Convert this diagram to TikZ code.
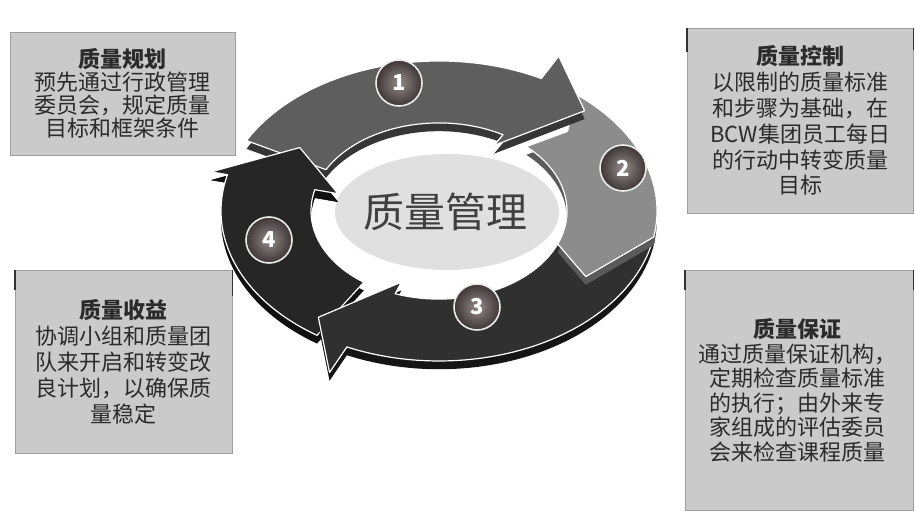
\documentclass[tikz,border=0pt]{standalone}
\usepackage{fontspec}
\newfontfamily\cjk{Noto Sans CJK SC}
\definecolor{boxgray}{HTML}{CACACA}
\definecolor{txt}{HTML}{2B2B2B}
\definecolor{aone}{HTML}{5E5E5E}
\definecolor{aoneside}{HTML}{363636}
\definecolor{atwo}{HTML}{8C8C8C}
\definecolor{atwoside}{HTML}{5A5A5A}
\definecolor{athree}{HTML}{303030}
\definecolor{athreeside}{HTML}{151515}
\definecolor{afour}{HTML}{262626}
\definecolor{afourside}{HTML}{101010}
\definecolor{blobgray}{HTML}{E0E0E0}
\definecolor{numin}{HTML}{948A8A}
\definecolor{numout}{HTML}{3E3636}
\newcommand\RingOut{218}
\newcommand\RingIn{128}
\newcommand\RingMid{173}
% tailOut, tailIn, notchAngle, baseOut, baseIn, barbOut, barbIn, tipAngle, tipRadius
\newcommand\ArrowPath[9]{(#1:\RingOut) arc[start angle=#1,end angle=#4,radius=\RingOut] -- (#4:#6) -- (#8:#9) -- (#5:#7) -- (#5:\RingIn) arc[start angle=#5,end angle=#2,radius=\RingIn] -- (#3:\RingMid) -- cycle}
\newcommand\ArrowOne{\ArrowPath{152}{152}{152}{62}{60}{255}{110}{45}{206}}
\newcommand\ArrowTwo{\ArrowPath{51}{47}{42}{-10}{-22}{218}{128}{-33}{175}}
\newcommand\ArrowThree{\ArrowPath{-8}{-20}{-30}{-115}{-110}{259}{110}{-128}{196}}
\newcommand\ArrowFour{\ArrowPath{236}{234}{235}{166}{166}{235}{104}{146.5}{167}}
\begin{document}
\begin{tikzpicture}[x=1pt,y=-1pt,
  infobox/.style={fill=boxgray, draw=gray!75, line width=0.5pt, anchor=north west, inner sep=0pt},
  infotext/.style={text=txt, align=center, inner sep=0pt, font=\cjk\fontsize{22}{#1}\selectfont},
  numball/.style={circle, minimum size=46pt, inner sep=0pt, shading=radial, inner color=numin, outer color=numout, draw=white!85!gray, line width=1.6pt, text=white, font=\cjk\bfseries\fontsize{22}{24}\selectfont},
  arrowtop/.style={fill=#1, draw=white, line width=1.2pt, line join=round},
  arrowside/.style={fill=#1, shift={(0,-12)}},
  tick/.style={draw=black!80, line width=1.2pt}]
\useasboundingbox (0,0) rectangle (915,526);
\fill[white] (0,0) rectangle (915,526);

% info boxes
\node[infobox, minimum width=225pt, minimum height=123pt] (b1) at (10,32) {};
\node[infotext=23] (t1) at (b1.center) {{\bfseries 质量规划}\\预先通过行政管理\\委员会，规定质量\\目标和框架条件};

\node[infobox, minimum width=226pt, minimum height=185pt] (b2) at (687,28) {};
\node[infotext=25.8] (t2) at (b2.center) {{\bfseries 质量控制}\\以限制的质量标准\\和步骤为基础，在\\BCW集团员工每日\\的行动中转变质量\\目标};
\draw[tick] (b2.north west) -- ++(0,24);
\draw[tick] (b2.north east) -- ++(0,22);

\node[infobox, minimum width=217pt, minimum height=183pt] (b3) at (15,270) {};
\node[infotext=26] (t3) at (b3.center) {{\bfseries 质量收益}\\协调小组和质量团\\队来开启和转变改\\良计划，以确保质\\量稳定};
\draw[tick] (b3.north west) -- ++(0,20);
\draw[tick] (b3.north east) -- ++(0,26);

\node[infobox, minimum width=228pt, minimum height=240pt] (b4) at (685,270) {};
\node[infotext=24.6] (t4) at ([xshift=-2pt]b4.center) {{\bfseries 质量保证}\\通过质量保证机构，\\定期检查质量标准\\的执行；由外来专\\家组成的评估委员\\会来检查课程质量};
\draw[tick] (b4.north west) -- ++(0,20);
\draw[tick] (b4.north east) -- ++(0,20);

% centre blob
\fill[blobgray] (447,212) ellipse [x radius=112, y radius=58];

% ring of arrows
\begin{scope}[shift={(439,211)}, yscale=-0.688]
  \fill[arrowside=afourside] \ArrowFour;
  \path[arrowtop=afour] \ArrowFour;
  \fill[arrowside=athreeside] \ArrowThree;
  \path[arrowtop=athree] \ArrowThree;
  \fill[arrowside=atwoside] \ArrowTwo;
  \path[arrowtop=atwo] \ArrowTwo;
  \fill[arrowside=aoneside] \ArrowOne;
  \path[arrowtop=aone] \ArrowOne;
  \begin{scope}
    \clip (-270,0) rectangle (-70,175);
    \fill[arrowside=afourside] \ArrowFour;
    \path[arrowtop=afour] \ArrowFour;
  \end{scope}
\end{scope}

\node[text=black!75, font=\cjk\fontsize{41}{48}\selectfont] (centre) at (445,212) {质量管理};

% numbered balls
\node[numball] (n1) at (399,83) {1};
\node[numball] (n2) at (623,168) {2};
\node[numball] (n3) at (477,307) {3};
\node[numball] (n4) at (269,240) {4};
\end{tikzpicture}
\end{document}
